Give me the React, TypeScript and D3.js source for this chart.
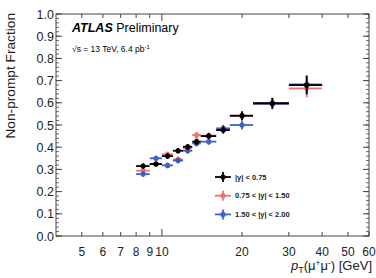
import * as d3 from 'd3'

// pT bins [GeV]
const binLo = [8, 9, 10, 11, 12, 13, 14, 16, 18, 22, 30]
const binHi = [9, 10, 11, 12, 13, 14, 16, 18, 22, 30, 40]

// non-prompt fraction per rapidity slice
const fracCentral = [0.315, 0.324, 0.36, 0.384, 0.402, 0.425, 0.45, 0.477, 0.542, 0.598, 0.68]
const errCentral = [0.012, 0.01, 0.012, 0.012, 0.012, 0.014, 0.014, 0.016, 0.02, 0.024, 0.042]
const fracMid = [0.294, 0.325, 0.368, 0.345, 0.395, 0.455, 0.452, 0.48, 0.54, 0.6, 0.665]
const errMid = [0.012, 0.011, 0.012, 0.012, 0.012, 0.014, 0.014, 0.016, 0.02, 0.024, 0.04]
const fracFwd = [0.279, 0.35, 0.318, 0.34, 0.384, 0.417, 0.425, 0.485, 0.5, 0.595, 0.683]
const errFwd = [0.012, 0.012, 0.013, 0.013, 0.013, 0.014, 0.014, 0.016, 0.02, 0.024, 0.04]

const xTicks = [5, 6, 7, 8, 9, 10, 20, 30, 40, 50, 60]
const xTickLabels = ['5', '6', '7', '8', '9', '10', '20', '30', '40', '50', '60']
const yMajor = d3.range(0, 1.0001, 0.1)
const yMinor = d3.range(0, 1.0001, 0.02)

const series = [
  { label: '0.75 < |y| < 1.50', frac: fracMid, err: errMid, colour: '#f0585c', opacity: 0.85 },
  { label: '1.50 < |y| < 2.00', frac: fracFwd, err: errFwd, colour: '#2c50c0', opacity: 0.9 },
  { label: '|y| < 0.75', frac: fracCentral, err: errCentral, colour: '#000000', opacity: 1 },
]
const legendOrder = [2, 0, 1]

const W = 376
const H = 278
const left = 56
const right = 369
const top = 14
const bottom = 236
const axisColour = '#444'
const font = 'Liberation Sans, Arial, Helvetica, sans-serif'

const App = () => {
  const x = d3.scaleLog().domain([4, 60]).range([left, right])
  const y = d3.scaleLinear().domain([0, 1]).range([bottom, top])

  const points = series.map((s, si) => (
    <g key={si} stroke={s.colour} fill={s.colour} opacity={s.opacity}>
      {s.frac.map((f, i) => {
        const cx = x((binLo[i] + binHi[i]) / 2)
        const cy = y(f)
        return (
          <g key={i}>
            <line x1={x(binLo[i])} x2={x(binHi[i])} y1={cy} y2={cy} strokeWidth={1.8} />
            <line x1={cx} x2={cx} y1={y(f - s.err[i])} y2={y(f + s.err[i])} strokeWidth={1.8} />
            <circle cx={cx} cy={cy} r={2.6} stroke="none" />
          </g>
        )
      })}
    </g>
  ))

  const legend = legendOrder.map((si, k) => {
    const s = series[si]
    const ly = 177 + k * 18.7
    return (
      <g key={k}>
        <g stroke={s.colour} fill={s.colour} opacity={s.opacity}>
          <line x1={215} x2={231} y1={ly} y2={ly} strokeWidth={1.8} />
          <line x1={223} x2={223} y1={ly - 5} y2={ly + 5} strokeWidth={1.8} />
          <circle cx={223} cy={ly} r={2.6} stroke="none" />
        </g>
        <text x={235} y={ly + 2.6} fontSize={7.5} fontWeight="bold" fill="#222" fontFamily={font}>
          {s.label}
        </text>
      </g>
    )
  })

  return (
    <svg width={W} height={H} style={{ position: 'absolute', left: 0, top: 0 }}>
      <rect width={W} height={H} fill="#fff" />
      {/* frame */}
      <rect x={left} y={top} width={right - left} height={bottom - top} fill="none" stroke={axisColour} strokeWidth={1} />

      {/* y ticks, left and right */}
      {yMinor.map((v, i) => (
        <g key={'ym' + i} stroke={axisColour} strokeWidth={0.8}>
          <line x1={left} x2={left + 3} y1={y(v)} y2={y(v)} />
          <line x1={right} x2={right - 3} y1={y(v)} y2={y(v)} />
        </g>
      ))}
      {yMajor.map((v, i) => (
        <g key={'yM' + i}>
          <line x1={left} x2={left + 6} y1={y(v)} y2={y(v)} stroke={axisColour} />
          <line x1={right} x2={right - 6} y1={y(v)} y2={y(v)} stroke={axisColour} />
          <text x={left - 2} y={y(v) + 4.5} textAnchor="end" fontSize={12.5} fill="#222" fontFamily={font}>
            {v.toFixed(1)}
          </text>
        </g>
      ))}

      {/* x ticks, bottom and top */}
      {xTicks.map((v, i) => {
        const len = v === 10 ? 7 : 4
        return (
          <g key={'x' + i}>
            <line x1={x(v)} x2={x(v)} y1={bottom} y2={bottom - len} stroke={axisColour} />
            <line x1={x(v)} x2={x(v)} y1={top} y2={top + len} stroke={axisColour} />
            <text x={x(v)} y={255.5} textAnchor="middle" fontSize={12} fill="#222" fontFamily={font}>
              {xTickLabels[i]}
            </text>
          </g>
        )
      })}

      {points}
      {legend}

      {/* axis titles */}
      <text
        transform={`translate(15,${top - 1}) rotate(-90)`}
        textAnchor="end"
        fontSize={13.7}
        fill="#222"
        fontFamily={font}
      >
        Non-prompt Fraction
      </text>
      <text x={372} y={270} textAnchor="end" fontSize={13} fill="#222" fontFamily={font}>
        <tspan fontStyle="italic">p</tspan>
        <tspan fontSize={9} dy={3}>T</tspan>
        <tspan dy={-3}>(μ</tspan>
        <tspan fontSize={8.5} dy={-4}>+</tspan>
        <tspan dy={4}>μ</tspan>
        <tspan fontSize={8.5} dy={-4}>-</tspan>
        <tspan dy={4}>) [GeV]</tspan>
      </text>

      {/* experiment label */}
      <text x={72} y={32} fontSize={12.5} fill="#000" fontFamily={font}>
        <tspan fontWeight="bold" fontStyle="italic">ATLAS</tspan>
        <tspan> Preliminary</tspan>
      </text>
      <text x={72} y={52} fontSize={8.5} fill="#000" fontFamily={font}>
        <tspan>√s = 13 TeV, 6.4 pb</tspan>
        <tspan fontSize={6} dy={-3.5}>-1</tspan>
      </text>
    </svg>
  )
}

export default App
